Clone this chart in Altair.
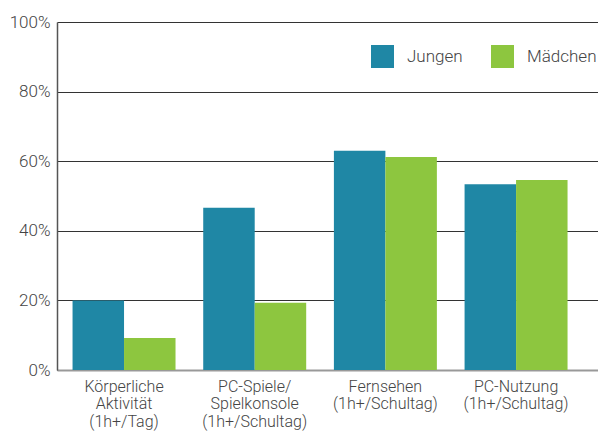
import altair as alt
import pandas as pd

categories = ["Körperliche|Aktivität|(1h+/Tag)",
              "PC-Spiele/|Spielkonsole|(1h+/Schultag)",
              "Fernsehen|(1h+/Schultag)",
              "PC-Nutzung|(1h+/Schultag)"]
groups = ["Jungen", "Mädchen"]
jungen = [20.0, 46.6, 63.0, 53.4]
maedchen = [9.2, 19.3, 61.2, 54.6]
y_ticks = [0, 20, 40, 60, 80, 100]
colors = ["#1F87A5", "#8DC63F"]

rows = []
for c, j, m in zip(categories, jungen, maedchen):
    rows.append({"Kategorie": c, "Geschlecht": groups[0], "Wert": j})
    rows.append({"Kategorie": c, "Geschlecht": groups[1], "Wert": m})
df = pd.DataFrame(rows)

FONT = "Roboto"
TXT = "#444444"
FS = 17
FW = 300

chart = alt.Chart(df).mark_bar().encode(
    x=alt.X("Kategorie:N", sort=categories,
            scale=alt.Scale(paddingInner=0.212, paddingOuter=0.176, align=0.338),
            axis=alt.Axis(title=None, labelAngle=0, domain=True, domainColor="#999999",
                          domainWidth=2, ticks=False, labelPadding=8,
                          labelExpr="split(datum.label, '|')", labelBaseline="top",
                          labelLineHeight=17.5, labelFontSize=16, labelColor=TXT,
                          labelFont=FONT, labelFontWeight=FW)),
    xOffset=alt.XOffset("Geschlecht:N", scale=alt.Scale(domain=groups)),
    y=alt.Y("Wert:Q", scale=alt.Scale(domain=[0, 100], nice=False),
            axis=alt.Axis(title=None, values=y_ticks, labelExpr="datum.value + '%'",
                          grid=True, gridColor="#333333", gridWidth=1,
                          domain=True, domainColor="#555555", domainWidth=1.5,
                          ticks=False, labelPadding=7, labelFontSize=FS,
                          labelColor=TXT, labelFont=FONT, labelFontWeight=FW)),
    color=alt.Color("Geschlecht:N", scale=alt.Scale(domain=groups, range=colors),
                    legend=alt.Legend(title=None, orient="none", direction="horizontal",
                                      legendX=314, legendY=23, symbolType="square",
                                      symbolSize=529, symbolStrokeWidth=0,
                                      symbolOpacity=1, labelFontSize=FS,
                                      labelColor=TXT, labelFont=FONT,
                                      labelFontWeight=FW, labelOffset=13,
                                      columnPadding=28, padding=0)),
).properties(
    width=541, height=348,
    autosize=alt.AutoSizeParams(type="none"),
    padding={"left": 49, "top": 14, "right": 0, "bottom": 63},
).configure_view(stroke=None).configure_axisY(gridOpacity=1)

chart.save("out.html", embed_options={"renderer": "svg", "actions": False})
